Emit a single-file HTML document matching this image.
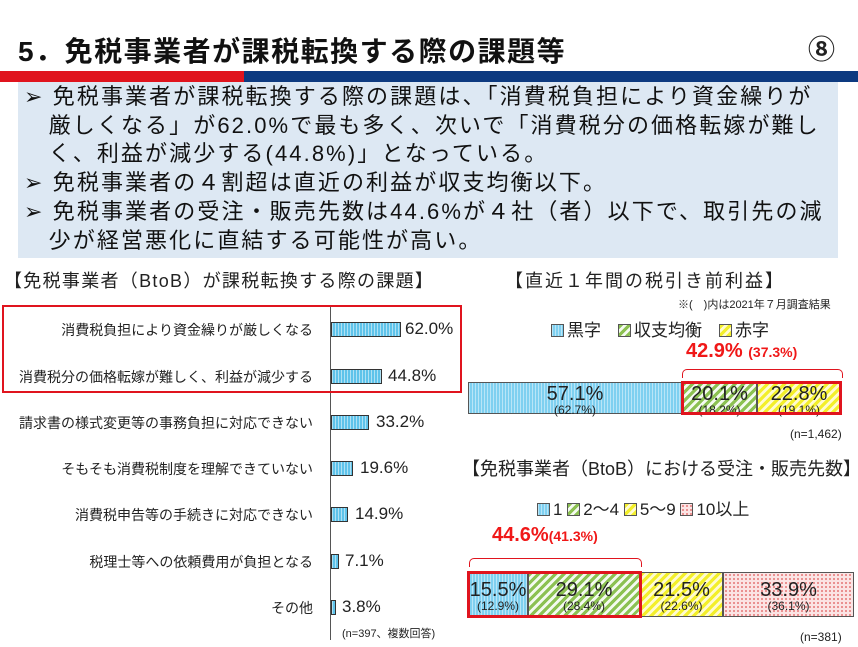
<!DOCTYPE html>
<html><head><meta charset="utf-8"><style>
body{margin:0;width:858px;height:647px;background:#fff;font-family:"Liberation Sans","Noto Sans CJK JP",sans-serif;position:relative;overflow:hidden;color:#222}
.a{position:absolute;white-space:nowrap}
.lab{position:absolute;right:545px;font-size:14px;text-align:right}
.bar{position:absolute;left:331px;height:15px;border:1px solid #333;box-sizing:border-box;background:#5fc3ea repeating-linear-gradient(90deg,rgba(255,255,255,.5) 0 1px,transparent 1px 3px)}
.val{position:absolute;font-size:17px}
.seg{position:absolute;box-sizing:border-box;border:1px solid #555;text-align:center;color:#222;line-height:1}
.blue{background:#7fd0f0 repeating-linear-gradient(90deg,rgba(255,255,255,.45) 0 1px,transparent 1px 3px)}
.green{background:repeating-linear-gradient(135deg,#8cc152 0 3px,#f4faf0 3px 6px)}
.yellow{background:repeating-linear-gradient(135deg,#f3ef2a 0 3px,#fffbd0 3px 6px)}
.red{background:#fbe4e4 radial-gradient(#e98a8a 1px,transparent 1.2px) 0 0/4px 4px}
.big{font-size:20px;display:block;margin-top:1px}
.sm{font-size:12px;display:block;margin-top:0}
.sw{display:inline-block;width:11px;height:11px;border:1px solid #555;vertical-align:-1px;margin-right:3px}
</style></head><body>
<div class="a" style="left:18px;top:30px;font-size:28px;letter-spacing:1.5px;font-weight:bold;color:#111">5．免税事業者が課税転換する際の課題等</div>
<div class="a" style="left:808px;top:28px;font-size:27px;font-weight:bold">⑧</div>
<div class="a" style="left:0;top:71px;width:244px;height:11px;background:#e0141e"></div>
<div class="a" style="left:244px;top:71px;width:614px;height:11px;background:#0d3a80"></div>
<div class="a" style="left:18px;top:82px;width:820px;height:176px;background:#dde8f3"></div>
<div class="a" style="left:24px;top:83px;font-size:22px;letter-spacing:2.1px;line-height:28.7px;color:#111">
➢ 免税事業者が課税転換する際の課題は、「消費税負担により資金繰りが<br>&nbsp;&nbsp;&nbsp;厳しくなる」が62.0%で最も多く、次いで「消費税分の価格転嫁が難し<br>&nbsp;&nbsp;&nbsp;く、利益が減少する(44.8%)」となっている。<br>➢ 免税事業者の４割超は直近の利益が収支均衡以下。<br>➢ 免税事業者の受注・販売先数は44.6%が４社（者）以下で、取引先の減<br>&nbsp;&nbsp;&nbsp;少が経営悪化に直結する可能性が高い。</div>
<div class="a" style="left:4px;top:267px;font-size:18px;letter-spacing:1.3px">【免税事業者（BtoB）が課税転換する際の課題】</div>
<div class="a" style="left:505px;top:267px;font-size:18px;letter-spacing:2px">【直近１年間の税引き前利益】</div>
<div class="a" style="left:678px;top:296px;font-size:11px">※(　)内は2021年７月調査結果</div>
<div class="a" style="left:330px;top:305px;width:1px;height:335px;background:#555"></div>
<div class="a" style="left:2px;top:305px;width:460px;height:88px;border:2px solid #e0141e;box-sizing:border-box"></div>
<div class="lab" style="top:320px">消費税負担により資金繰りが厳しくなる</div>
<div class="bar" style="top:322px;width:70px"></div><div class="val" style="left:405px;top:319px">62.0%</div>
<div class="lab" style="top:367px">消費税分の価格転嫁が難しく、利益が減少する</div>
<div class="bar" style="top:369px;width:51px"></div><div class="val" style="left:388px;top:366px">44.8%</div>
<div class="lab" style="top:413px">請求書の様式変更等の事務負担に対応できない</div>
<div class="bar" style="top:415px;width:38px"></div><div class="val" style="left:376px;top:412px">33.2%</div>
<div class="lab" style="top:459px">そもそも消費税制度を理解できていない</div>
<div class="bar" style="top:461px;width:22px"></div><div class="val" style="left:360px;top:458px">19.6%</div>
<div class="lab" style="top:505px">消費税申告等の手続きに対応できない</div>
<div class="bar" style="top:507px;width:17px"></div><div class="val" style="left:355px;top:504px">14.9%</div>
<div class="lab" style="top:552px">税理士等への依頼費用が負担となる</div>
<div class="bar" style="top:554px;width:8px"></div><div class="val" style="left:345px;top:551px">7.1%</div>
<div class="lab" style="top:598px">その他</div>
<div class="bar" style="top:600px;width:5px"></div><div class="val" style="left:342px;top:597px">3.8%</div>
<div class="a" style="left:342px;top:625px;font-size:11px">(n=397、複数回答)</div>

<div class="a" style="left:551px;top:316px;font-size:17px"><span class="sw blue"></span>黒字　<span class="sw green"></span>収支均衡　<span class="sw yellow"></span>赤字</div>
<div class="a" style="left:686px;top:340px;font-size:20px;font-weight:bold;color:#f01818">42.9% <span style="font-size:14px">(37.3%)</span></div>
<div class="a" style="left:682px;top:369px;width:159px;height:8px;border:1px solid #e0141e;border-bottom:none;border-radius:5px 5px 0 0"></div>
<div class="seg blue" style="left:468px;top:382px;width:214px;height:32px"><span class="big">57.1%</span><span class="sm">(62.7%)</span></div>
<div class="seg green" style="left:682px;top:382px;width:75px;height:32px"><span class="big">20.1%</span><span class="sm">(18.2%)</span></div>
<div class="seg yellow" style="left:757px;top:382px;width:84px;height:32px"><span class="big">22.8%</span><span class="sm">(19.1%)</span></div>
<div class="a" style="left:681px;top:381px;width:161px;height:34px;border:3px solid #e0141e;box-sizing:border-box"></div>
<div class="a" style="left:790px;top:427px;font-size:12px">(n=1,462)</div>

<div class="a" style="left:462px;top:455px;font-size:18px;letter-spacing:0">【免税事業者（BtoB）における受注・販売先数】</div>
<div class="a" style="left:537px;top:495px;font-size:17px"><span class="sw blue"></span>1 <span class="sw green"></span>2～4 <span class="sw yellow"></span>5～9 <span class="sw red"></span>10以上</div>
<div class="a" style="left:492px;top:524px;font-size:20px;font-weight:bold;color:#f01818">44.6%<span style="font-size:14px">(41.3%)</span></div>
<div class="a" style="left:469px;top:558px;width:171px;height:8px;border:1px solid #e0141e;border-bottom:none;border-radius:5px 5px 0 0"></div>
<div class="seg blue" style="left:468px;top:572px;width:60px;height:45px"><span class="big" style="margin-top:7px">15.5%</span><span class="sm">(12.9%)</span></div>
<div class="seg green" style="left:528px;top:572px;width:112px;height:45px"><span class="big" style="margin-top:7px">29.1%</span><span class="sm">(28.4%)</span></div>
<div class="seg yellow" style="left:640px;top:572px;width:83px;height:45px"><span class="big" style="margin-top:7px">21.5%</span><span class="sm">(22.6%)</span></div>
<div class="seg red" style="left:723px;top:572px;width:131px;height:45px"><span class="big" style="margin-top:7px">33.9%</span><span class="sm">(36.1%)</span></div>
<div class="a" style="left:467px;top:571px;width:175px;height:47px;border:3px solid #e0141e;box-sizing:border-box"></div>
<div class="a" style="left:800px;top:630px;font-size:12px">(n=381)</div>
</body></html>
